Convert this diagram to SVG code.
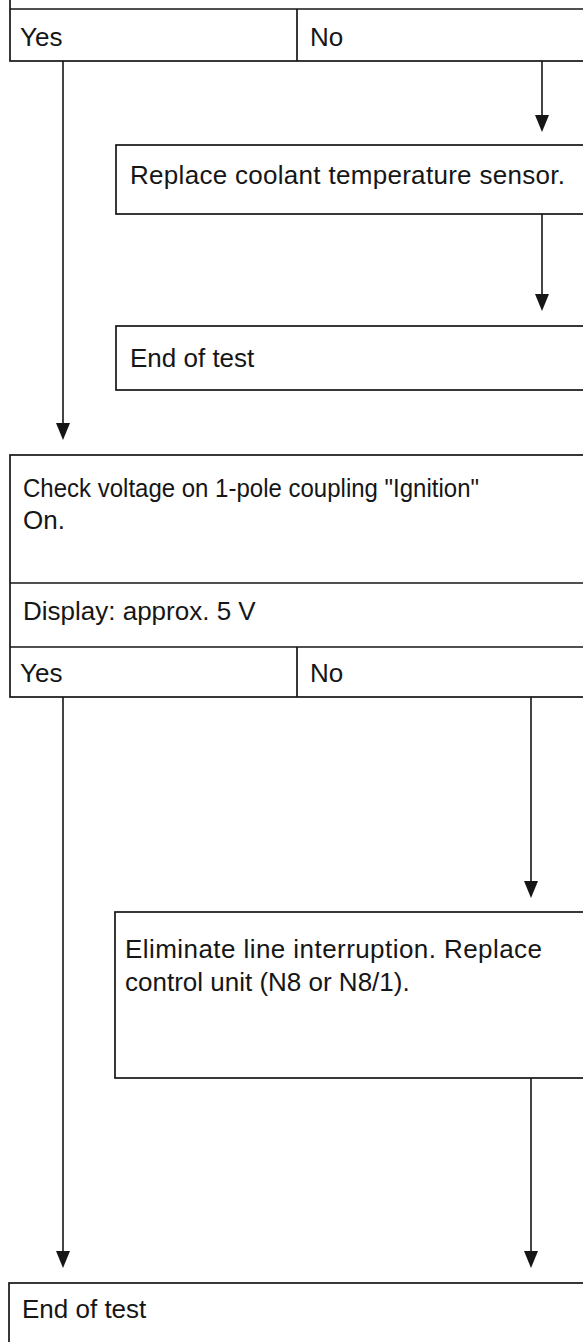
<svg xmlns="http://www.w3.org/2000/svg" width="583" height="1342" viewBox="0 0 583 1342">
<style>
.box{fill:#fff;stroke:#161616;stroke-width:1.7}
.ln{stroke:#161616;stroke-width:1.7;fill:none}
.t{font-family:"Liberation Sans",Arial,sans-serif;font-size:26px;fill:#161616}
.con{stroke:#161616;stroke-width:1.6;fill:none}
.ah{fill:#161616}
</style>
<rect x="0" y="0" width="583" height="1342" fill="#fff"/>
<g id="node-top-decision">
<rect class="box" x="10" y="-40" width="600" height="101"/>
<line class="ln" x1="10" y1="9" x2="600" y2="9"/>
<line class="ln" x1="297" y1="9" x2="297" y2="61"/>
<text class="t" x="20" y="46">Yes</text>
<text class="t" x="310" y="46">No</text>
</g>
<g id="node-replace-sensor">
<rect class="box" x="116" y="145" width="500" height="69"/>
<text class="t" x="130" y="184" textLength="435" lengthAdjust="spacing">Replace coolant temperature sensor.</text>
</g>
<g id="node-end1">
<rect class="box" x="116" y="326" width="500" height="64"/>
<text class="t" x="130" y="367">End of test</text>
</g>
<g id="node-check-voltage">
<rect class="box" x="10" y="455" width="600" height="242"/>
<line class="ln" x1="10" y1="583" x2="600" y2="583"/>
<line class="ln" x1="10" y1="647" x2="600" y2="647"/>
<line class="ln" x1="297" y1="647" x2="297" y2="697"/>
<text class="t" x="23" y="497" textLength="456" lengthAdjust="spacingAndGlyphs">Check voltage on 1-pole coupling "Ignition"</text>
<text class="t" x="23" y="529">On.</text>
<text class="t" x="23" y="620">Display: approx. 5 V</text>
<text class="t" x="20" y="682">Yes</text>
<text class="t" x="310" y="682">No</text>
</g>
<g id="node-eliminate">
<rect class="box" x="115" y="912" width="500" height="166"/>
<text class="t" x="125" y="958" textLength="417" lengthAdjust="spacing">Eliminate line interruption. Replace</text>
<text class="t" x="125" y="991">control unit (N8 or N8/1).</text>
</g>
<g id="node-end2">
<rect class="box" x="9" y="1283" width="600" height="100"/>
<text class="t" x="22" y="1318">End of test</text>
</g>
<g id="connectors">
<line class="con" x1="63" y1="61" x2="63" y2="426"/>
<polygon class="ah" points="56,423 70,423 63,440"/>
<line class="con" x1="542" y1="61" x2="542" y2="118"/>
<polygon class="ah" points="535,115 549,115 542,132"/>
<line class="con" x1="542" y1="214" x2="542" y2="297"/>
<polygon class="ah" points="535,294 549,294 542,311"/>
<line class="con" x1="531" y1="697" x2="531" y2="884"/>
<polygon class="ah" points="524,881 538,881 531,898"/>
<line class="con" x1="531" y1="1078" x2="531" y2="1254"/>
<polygon class="ah" points="524,1251 538,1251 531,1268"/>
<line class="con" x1="63" y1="697" x2="63" y2="1254"/>
<polygon class="ah" points="56,1251 70,1251 63,1268"/>
</g>
</svg>
